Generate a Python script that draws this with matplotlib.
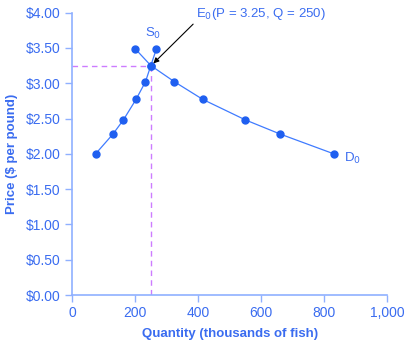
import matplotlib
matplotlib.use("Agg")
import matplotlib.pyplot as plt

plt.rcParams['font.family'] = ['Liberation Sans', 'DejaVu Sans']

supply_q = [75, 130, 163, 203, 233, 250, 268]
supply_p = [2.00, 2.28, 2.48, 2.77, 3.02, 3.25, 3.49]
demand_q = [200, 250, 325, 415, 550, 660, 830]
demand_p = [3.49, 3.25, 3.02, 2.77, 2.48, 2.28, 2.00]
eq_q, eq_p = 250, 3.25
x_ticks = [0, 200, 400, 600, 800, 1000]
x_tick_labels = ['0', '200', '400', '600', '800', '1,000']
y_ticks = [0, 0.5, 1.0, 1.5, 2.0, 2.5, 3.0, 3.5, 4.0]
y_tick_labels = ['$0.00', '$0.50', '$1.00', '$1.50', '$2.00', '$2.50', '$3.00', '$3.50', '$4.00']

text_c = '#3a6cf0'
axis_c = '#8fb0ff'
line_c = '#3f7bff'
mark_c = '#1f5ff0'
dash_c = '#cc7cff'

fig = plt.figure(figsize=(4.07, 3.53), dpi=100)
ax = fig.add_axes([0.1769, 0.1643, 0.9516 - 0.1769, 0.9643 - 0.1643])

ax.plot([0, eq_q], [eq_p, eq_p], color=dash_c, lw=1, ls=(0, (4, 3)), zorder=1)
ax.plot([eq_q, eq_q], [0, eq_p], color=dash_c, lw=1, ls=(0, (4, 3)), zorder=1)

ax.plot(supply_q, supply_p, color=line_c, lw=0.9, marker='o', ms=5,
        mfc=mark_c, mec=mark_c, zorder=3)
ax.plot(demand_q, demand_p, color=line_c, lw=0.9, marker='o', ms=5,
        mfc=mark_c, mec=mark_c, zorder=3)

ax.set_xlim(0, 1000)
ax.set_ylim(0, 4.0)
ax.set_xticks(x_ticks)
ax.set_xticklabels(x_tick_labels)
ax.set_yticks(y_ticks)
ax.set_yticklabels(y_tick_labels)

for s in ['top', 'right']:
    ax.spines[s].set_visible(False)
for s in ['left', 'bottom']:
    ax.spines[s].set_color(axis_c)
    ax.spines[s].set_linewidth(1.2)
ax.tick_params(axis='both', colors=axis_c, labelcolor=text_c, labelsize=10,
               length=5, width=1, direction='out', pad=3)

ax.set_xlabel('Quantity (thousands of fish)', color=text_c, fontsize=9.5,
              fontweight='bold', labelpad=6)
ax.set_ylabel('Price ($ per pound)', color=text_c, fontsize=9.5,
              fontweight='bold', labelpad=6)

ax.text(258, 3.70, r'S$_0$', color=text_c, fontsize=9.5, ha='center', va='center')
ax.text(862, 1.94, r'D$_0$', color=text_c, fontsize=9.5, ha='left', va='center')

ax.annotate(r'E$_0$(P = 3.25, Q = 250)', xy=(eq_q + 8, eq_p + 0.03),
            xytext=(393, 3.98), color=text_c, fontsize=9.5,
            ha='left', va='center',
            arrowprops=dict(arrowstyle='-|>', color='black', lw=0.8,
                            shrinkA=0, shrinkB=0, mutation_scale=8,
                            relpos=(0.02, 0.2)),
            annotation_clip=False)

fig.savefig('out.png', dpi=100)
